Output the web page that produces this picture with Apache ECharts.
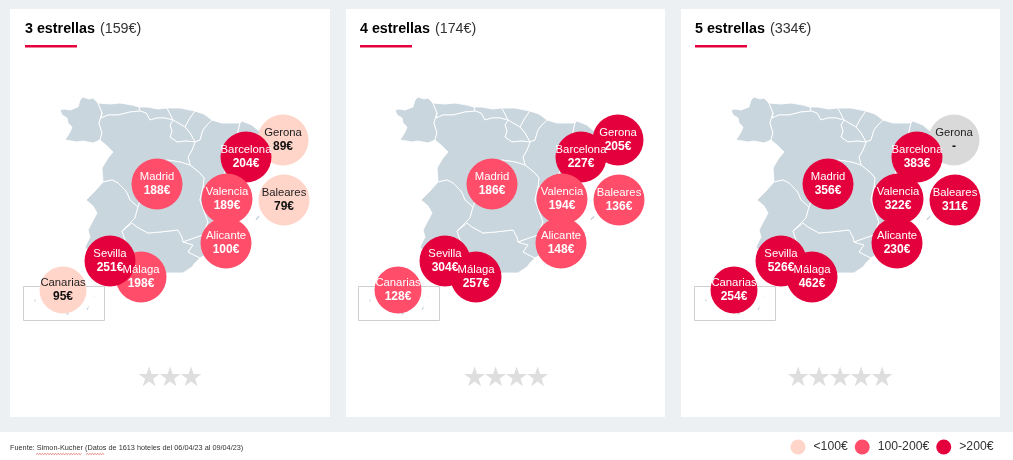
<!DOCTYPE html>
<html><head><meta charset="utf-8">
<style>html,body{margin:0;padding:0;background:#fff}#c{width:1013px;height:460px}</style>
<script src="https://cdn.jsdelivr.net/npm/echarts@6/dist/echarts.min.js"></script>
</head><body><div id="c"></div>
<script>
// Data
const cities   = ['Gerona','Baleares','Málaga','Sevilla','Barcelona','Valencia','Alicante','Madrid','Canarias'];
const cityMapX = [283,284,141,110,246,227,226,157,63];
const cityMapY = [140,200,277,261,157,199,243,184,290];
const stars3 = [89,79,198,251,204,189,100,188,95];
const stars4 = [205,136,257,304,227,194,148,186,128];
const stars5 = [null,311,462,526,383,322,230,356,254];
const panelTitles = ['3 estrellas','4 estrellas','5 estrellas'];
const panelAverages = ['(159€)','(174€)','(334€)'];
const starCounts = [3,4,5];
const legendLabels = ['<100€','100-200€','>200€'];
const sourceText = 'Fuente: Simon-Kucher (Datos de 1613 hoteles del 06/04/23 al 09/04/23)';

// Map outline, in map units
const regions = {
 Galicia:[[60,110],[64,109],[70,110],[78,107],[80,100],[83,97],[89,99],[93,98],[98,103],[102,113],[99,123],[102,133],[100,140],[93,143],[83,141],[77,142],[65,140],[70,132],[72,127],[68,123],[67,118],[62,115]],
 Asturias:[[98,103],[110,104],[120,103],[132,105],[139,107],[140,111],[130,112],[118,115],[108,115],[101,118],[102,113]],
 Cantabria:[[139,107],[147,107],[158,109],[167,108],[170,114],[173,120],[165,118],[157,118],[150,120],[146,113],[140,111]],
 PaisVasco:[[167,108],[180,108],[195,111],[190,118],[185,127],[178,123],[173,120],[170,114]],
 Navarra:[[195,111],[204,114],[212,120],[207,125],[203,130],[200,140],[195,142],[190,133],[185,127],[190,118]],
 Rioja:[[173,120],[178,123],[185,127],[190,133],[195,142],[186,141],[177,142],[170,137],[172,131],[170,125]],
 Aragon:[[212,120],[222,123],[240,123],[236,140],[228,155],[222,185],[203,187],[204,178],[200,173],[190,165],[188,157],[192,150],[195,142],[200,140],[203,130],[207,125]],
 Cataluna:[[240,123],[242,121],[252,125],[260,132],[262,138],[246,165],[228,185],[222,185],[228,155],[236,140]],
 CastillaLeon:[[101,118],[108,115],[118,115],[130,112],[140,111],[146,113],[150,120],[157,118],[165,118],[173,120],[170,125],[172,131],[170,137],[177,142],[186,141],[195,142],[192,150],[188,157],[190,165],[180,162],[167,160],[150,172],[138,207],[130,200],[127,193],[125,190],[118,183],[112,180],[103,182],[102,168],[108,158],[113,152],[107,146],[100,140],[102,133],[99,123],[102,113]],
 Extremadura:[[103,182],[112,180],[118,183],[125,190],[127,193],[130,200],[138,207],[135,218],[128,225],[122,231],[125,240],[133,253],[95,262],[85,247],[90,237],[88,230],[97,213],[93,206],[86,200],[95,191]],
 Andalucia:[[122,231],[132,223],[137,227],[148,233],[160,232],[178,230],[182,237],[183,242],[193,245],[188,252],[200,258],[195,263],[192,267],[183,273],[167,273],[150,285],[120,280],[105,270],[95,262],[133,253],[125,240]],
 CastillaMancha:[[138,207],[150,172],[167,160],[180,162],[190,165],[200,173],[204,178],[203,187],[200,200],[208,222],[203,235],[183,242],[182,237],[178,230],[160,232],[148,233],[137,227],[132,223],[122,231],[128,225],[135,218]],
 Murcia:[[183,242],[203,235],[215,240],[205,255],[200,258],[188,252],[193,245]],
 Valencia:[[203,187],[222,185],[228,185],[222,195],[215,210],[222,225],[226,240],[215,240],[203,235],[208,222],[200,200]],
 Mallorca:[[255,219],[259,215],[260,217],[256,221]],
 Tenerife:[[34,299],[36,299],[36,302],[34,302]],
 GranCanaria:[[66,312],[69,312],[69,315],[66,315]],
 Fuerteventura:[[86,309],[90,304],[91,305],[88,311]],
 Lanzarote:[[92,297],[97,295],[97,296],[93,298]]
};
const geoJson = {type:'FeatureCollection',features:Object.keys(regions).map(n=>({
  type:'Feature',properties:{name:n},
  geometry:{type:'Polygon',coordinates:[regions[n].concat([regions[n][0]])]}
}))};
echarts.registerMap('espana',geoJson);

const RED='#e4003c', PINK='#ff4d6a', PEACH='#ffd4c9', GREY='#d9d9d9';
const colorOf=v=>v==null?GREY:v<100?PEACH:v<=200?PINK:RED;
const FONT='"Liberation Sans",Arial,sans-serif';
const panelX=[10,346,681], panelW=[320,319,319], geoX=[10,345,681], titleX=[25,360,695];
const identity={project:p=>p,unproject:p=>p};

const geos=geoX.map(x=>({
  map:'espana',projection:identity,boundingCoords:[[10,9],[330,417]],
  left:x,top:9,width:320,height:408,roam:false,silent:true,z:1,
  itemStyle:{areaColor:'#c9d6de',borderColor:'#fff',borderWidth:0.9},
  emphasis:{disabled:true},select:{disabled:true},label:{show:false}
}));

const priceSets=[stars3,stars4,stars5];
const bubbleSeries=priceSets.map((prices,i)=>({
  type:'scatter',coordinateSystem:'geo',geoIndex:i,silent:true,z:3,
  data:cities.map((c,k)=>{
    const v=prices[k], dark=v==null||v<100;
    return {
      name:c,value:[cityMapX[k],cityMapY[k],v],
      symbolSize:c==='Canarias'?47:51,
      itemStyle:{color:colorOf(v),opacity:1},
      label:{show:true,position:'inside',
        formatter:'{n|'+c+'}\n{v|'+(v==null?'-':v+'€')+'}',
        rich:{
          n:{fontFamily:FONT,fontSize:11.3,lineHeight:14,color:dark?'#222':'#fff'},
          v:{fontFamily:FONT,fontSize:12,lineHeight:14,fontWeight:'bold',color:dark?'#111':'#fff'}
        }}
    };
  })
}));
const legendColors=[PEACH,PINK,RED];
const legendSeries=legendLabels.map((n,i)=>({
  type:'scatter',coordinateSystem:'geo',geoIndex:0,name:n,data:[],itemStyle:{color:legendColors[i],opacity:1}
}));

const graphics=[
  {type:'rect',z:-10,shape:{x:0,y:0,width:1013,height:432},style:{fill:'#ecf0f2'}},
  {type:'text',z:5,x:10,y:448,style:{text:sourceText,fontFamily:FONT,fontSize:7.3,fill:'#333',textVerticalAlign:'middle'}}
];
const starCenters=[170,506,840], starGap=21;
panelX.forEach((x,i)=>{
  graphics.push({type:'rect',z:-9,shape:{x:x,y:9,width:panelW[i],height:408},style:{fill:'#fff'}});
  graphics.push({type:'rect',z:5,shape:{x:titleX[i],y:45,width:52,height:2.6},style:{fill:RED}});
  graphics.push({type:'rect',z:2,shape:{x:geoX[i]+13.5,y:286.5,width:81,height:34},style:{fill:'none',stroke:'#cfcfcf',lineWidth:1}});
  for(let s=0;s<starCounts[i];s++){
    graphics.push({type:'text',z:5,x:starCenters[i]+(s-(starCounts[i]-1)/2)*starGap,y:379,
      style:{text:'★',fontFamily:'"DejaVu Sans"',fontSize:27,fill:'#dedede',textAlign:'center',textVerticalAlign:'middle'}});
  }
});
// spell-check squiggles under the source line
[[36,82],[86,105]].forEach(r=>{
  const pts=[];for(let x=r[0],k=0;x<=r[1];x+=1.3,k++)pts.push([x,k%2?453.4:454.6]);
  graphics.push({type:'polyline',z:5,shape:{points:pts},style:{stroke:'#d8342c',lineWidth:.6,fill:'none'}});
});

const chart=echarts.init(document.getElementById('c'),null,{renderer:'canvas'});
chart.setOption({
  animation:false,backgroundColor:'#fff',
  title:panelTitles.map((t,i)=>({
    left:titleX[i],top:20,padding:0,
    text:'{b|'+t+'} {l|'+panelAverages[i]+'}',
    textStyle:{rich:{
      b:{fontFamily:FONT,fontSize:14.3,fontWeight:'bold',color:'#000'},
      l:{fontFamily:FONT,fontSize:14.3,fontWeight:'normal',color:'#333'}
    }}
  })),
  geo:geos,
  legend:{left:790.5,top:439.5,itemWidth:15,itemHeight:15,itemGap:7,icon:'circle',padding:0,
    textStyle:{fontFamily:FONT,fontSize:12.2,color:'#333',padding:[0,0,0,3]},
    data:legendLabels,selectedMode:false},
  series:bubbleSeries.concat(legendSeries),
  graphic:{elements:graphics}
});
</script></body></html>
